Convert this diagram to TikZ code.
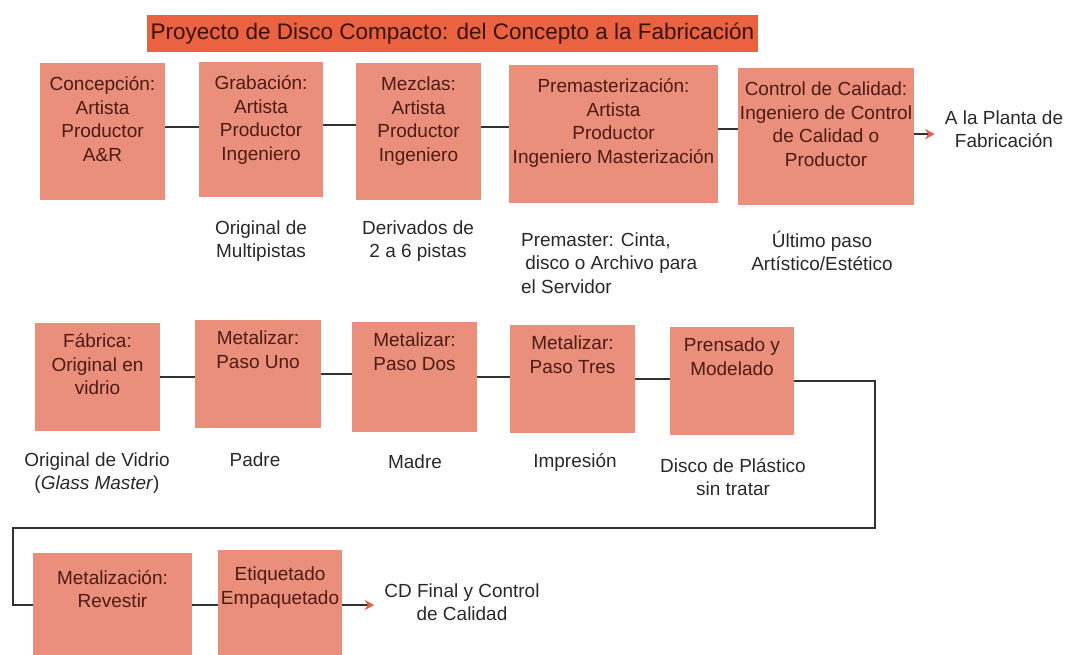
\documentclass[tikz,border=0pt]{standalone}
\usepackage{fontspec}
\setmainfont{Liberation Sans}
\usepackage{xcolor}
\usepackage{tikz}
\usetikzlibrary{arrows.meta, positioning}

\definecolor{TitleRed}{RGB}{234,98,64}
\definecolor{StageFill}{RGB}{233,143,124}
\definecolor{StageInk}{RGB}{78,26,18}
\definecolor{NoteInk}{RGB}{40,40,40}
\definecolor{LinkGray}{RGB}{50,50,50}
\definecolor{TipRed}{RGB}{222,96,76}

\tikzstyle{banner} = [
  rectangle, fill=TitleRed, text=StageInk!70!black,
  minimum width=15.275cm, minimum height=0.925cm,
  font=\fontsize{16}{19}\selectfont, inner sep=0pt
]
\tikzstyle{stage} = [
  rectangle, fill=StageFill, inner sep=0pt
]
\tikzstyle{stagetext} = [
  align=center, text=StageInk, inner sep=0pt,
  font=\fontsize{13.5}{16.7}\selectfont,
  execute at begin node=\strut
]
\tikzstyle{note} = [
  align=center, text=NoteInk, inner sep=2pt,
  font=\fontsize{13.5}{16.7}\selectfont
]
\tikzstyle{dest} = [note, inner xsep=0.25cm]
\tikzstyle{link} = [draw=LinkGray, line width=1.3pt]
\tikzstyle{arrow} = [link, -{Stealth[length=2.4mm, width=2.6mm, color=TipRed]}]

\begin{document}
\begin{tikzpicture}[x=0.025cm, y=-0.025cm]
  \useasboundingbox (0,0) rectangle (1080,654);

  % Title
  \node[banner] (head) at (452.5,33.5) {Proyecto de Disco Compacto: del Concepto a la Fabricación};

  % Studio stages (top row)
  \node[stage, minimum width=3.125cm, minimum height=3.425cm] (c1) at (102.5,131.5) {};
  \node[stage, minimum width=3.1cm, minimum height=3.375cm] (c2) at (261,129.5) {};
  \node[stage, minimum width=3.125cm, minimum height=3.425cm] (c3) at (418.5,131.5) {};
  \node[stage, minimum width=5.225cm, minimum height=3.45cm] (c4) at (613.5,134) {};
  \node[stage, minimum width=4.4cm, minimum height=3.425cm] (c5) at (826,136.5) {};

  \node[stagetext, below=0.35cm of c1.north] (c1t) {Concepción:\\Artista\\Productor\\A\&R};
  \node[stagetext, below=0.35cm of c2.north] (c2t) {Grabación:\\Artista\\Productor\\Ingeniero};
  \node[stagetext, below=0.35cm of c3.north] (c3t) {Mezclas:\\Artista\\Productor\\Ingeniero};
  \node[stagetext, below=0.35cm of c4.north] (c4t) {Premasterización:\\Artista\\Productor\\Ingeniero Masterización};
  \node[stagetext, below=0.35cm of c5.north] (c5t) {Control de Calidad:\\Ingeniero de Control\\de Calidad o\\Productor};

  % Studio results
  \node[note] (c2n) at (261,241) {Original de\\Multipistas};
  \node[note] (c3n) at (418,241) {Derivados de\\2 a 6 pistas};
  \node[note, align=left, anchor=west] (c4n) at (518,263) {Premaster: Cinta,\\\hspace{3pt}disco o Archivo para\\el Servidor};
  \node[note] (c5n) at (822,251) {Último paso\\Artístico/Estético};
  \node[dest] (dest1) at (1004,129) {A la Planta de\\Fabricación};

  % Plant stages (middle row)
  \node[stage, minimum width=3.125cm, minimum height=2.7cm] (f1) at (97.5,377) {};
  \node[stage, minimum width=3.15cm, minimum height=2.7cm] (f2) at (258,374) {};
  \node[stage, minimum width=3.125cm, minimum height=2.75cm] (f3) at (414.5,377) {};
  \node[stage, minimum width=3.125cm, minimum height=2.7cm] (f4) at (572.5,379) {};
  \node[stage, minimum width=3.1cm, minimum height=2.7cm] (f5) at (732,381) {};

  \node[stagetext, below=0.27cm of f1.north] (f1t) {Fábrica:\\Original en\\vidrio};
  \node[stagetext, below=0.27cm of f2.north] (f2t) {Metalizar:\\Paso Uno};
  \node[stagetext, below=0.27cm of f3.north] (f3t) {Metalizar:\\Paso Dos};
  \node[stagetext, below=0.27cm of f4.north] (f4t) {Metalizar:\\Paso Tres};
  \node[stagetext, below=0.27cm of f5.north] (f5t) {Prensado y\\Modelado};

  % Plant results
  \node[note] (f1n) at (97,473) {Original de Vidrio\\(\textit{Glass Master})};
  \node[note] (f2n) at (255,460) {Padre};
  \node[note] (f3n) at (415,462) {Madre};
  \node[note] (f4n) at (575,462) {Impresión};
  \node[note] (f5n) at (733,477) {Disco de Plástico\\sin tratar};

  % Final stages (bottom row)
  \node[stage, minimum width=3.975cm, minimum height=2.6cm] (g1) at (112.5,605) {};
  \node[stage, minimum width=3.1cm, minimum height=2.75cm] (g2) at (280,605) {};

  \node[stagetext, below=0.43cm of g1.north] (g1t) {Metalización:\\Revestir};
  \node[stagetext, below=0.43cm of g2.north] (g2t) {Etiquetado\\Empaquetado};
  \node[dest] (dest2) at (462,602) {CD Final y Control\\de Calidad};

  % Links
  \foreach \a/\b in {c1/c2, c2/c3, c3/c4, c4/c5}
    \draw[link] ([yshift=0.12cm]\a.east) -- ([yshift=0.12cm]\a.east -| \b.west);
  \draw[arrow] ([yshift=0.06cm]c5.east) -- ([yshift=0.06cm]c5.east -| dest1.west);

  \foreach \a/\b in {f1/f2, f2/f3, f3/f4, f4/f5}
    \draw[link] (\a.east) -- (\a.east -| \b.west);

  \coordinate (turnR) at (875,528);
  \coordinate (turnL) at (13,528);
  \draw[link] (f5.east) -| (turnR) -- (turnL) |- (g1.west);

  \draw[link] (g1.east) -- (g2.west);
  \draw[arrow] (g2.east) -- (g2.east -| dest2.west);

\end{tikzpicture}
\end{document}
